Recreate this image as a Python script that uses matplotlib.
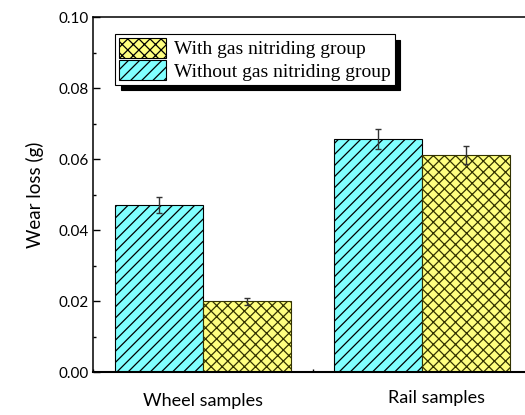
import matplotlib
matplotlib.use("Agg")
import matplotlib.pyplot as plt
import numpy as np
from matplotlib.patches import Patch
from matplotlib.ticker import MultipleLocator
from matplotlib.transforms import ScaledTranslation

# wear loss data
groups = ["Wheel samples", "Rail samples"]
without_nitriding = [0.0470, 0.0656]
without_err = [0.0022, 0.0028]
with_nitriding = [0.0199, 0.0611]
with_err = [0.0009, 0.0025]

cyan = "#80FFFF"
yellow = "#FFFF80"

plt.rcParams["hatch.linewidth"] = 0.9

fig = plt.figure(figsize=(5.25, 4.15), dpi=100)
# axes runs past the right edge of the figure, as in the cropped original
ax = fig.add_axes([0.178, 0.1036, 0.9, 0.8554])

x = np.arange(1, len(groups) + 1)
w = 0.4
ax.bar(x - w / 2, without_nitriding, w, color=cyan, edgecolor="black",
       linewidth=0.8, hatch="///", yerr=without_err,
       error_kw=dict(ecolor="#333333", elinewidth=1, capsize=2.5, capthick=1))
ax.bar(x + w / 2, with_nitriding, w, color=yellow, edgecolor="#333300",
       linewidth=0.8, hatch="xxx", yerr=with_err,
       error_kw=dict(ecolor="#333333", elinewidth=1, capsize=2.5, capthick=1))

ax.set_xlim(0.5, 2.657)
ax.set_ylim(0, 0.10)
ax.set_xticks(x)
ax.set_xticklabels(groups, family="Lato", fontsize=13)
ax.xaxis.set_minor_locator(MultipleLocator(0.5))
ax.yaxis.set_major_locator(MultipleLocator(0.02))
ax.yaxis.set_minor_locator(MultipleLocator(0.01))
ax.set_yticklabels([f"{v:.2f}" for v in ax.get_yticks()], family="Lato", fontsize=11)
ax.tick_params(axis="y", which="major", direction="in", length=5, width=1)
ax.tick_params(axis="y", which="minor", direction="in", length=2.5, width=1)
ax.tick_params(axis="x", which="major", length=0, pad=15)
ax.tick_params(axis="x", which="minor", direction="in", length=2.5, width=1)
ax.set_ylabel("Wear loss (g)", family="Lato", fontsize=13.5, labelpad=10)

# the rail label sits a little right of its group centre in the original
rail_lbl = ax.get_xticklabels()[1]
rail_lbl.set_transform(rail_lbl.get_transform() +
                       ScaledTranslation(0.14, 0.03, fig.dpi_scale_trans))

for side in ["left", "top"]:
    ax.spines[side].set_linewidth(1.1)
ax.spines["bottom"].set_linewidth(1.5)
ax.spines["right"].set_visible(False)

handles = [Patch(facecolor=yellow, edgecolor="black", hatch="xxx", linewidth=0.8),
           Patch(facecolor=cyan, edgecolor="black", hatch="///", linewidth=0.8)]
labels = ["With gas nitriding group", "Without gas nitriding group"]
leg = ax.legend(handles, labels, loc="upper left", bbox_to_anchor=(0.0455, 0.952),
                borderaxespad=0, fancybox=False, framealpha=1, edgecolor="black",
                prop={"family": "Liberation Serif", "size": 14},
                handlelength=2.4, handleheight=1.2, labelspacing=0.1,
                borderpad=0.2, handletextpad=0.45,
                shadow={"ox": 4, "oy": -4, "facecolor": "black",
                        "edgecolor": "black", "alpha": 1})
leg.get_frame().set_linewidth(0.8)

fig.savefig("out.png", dpi=100)
